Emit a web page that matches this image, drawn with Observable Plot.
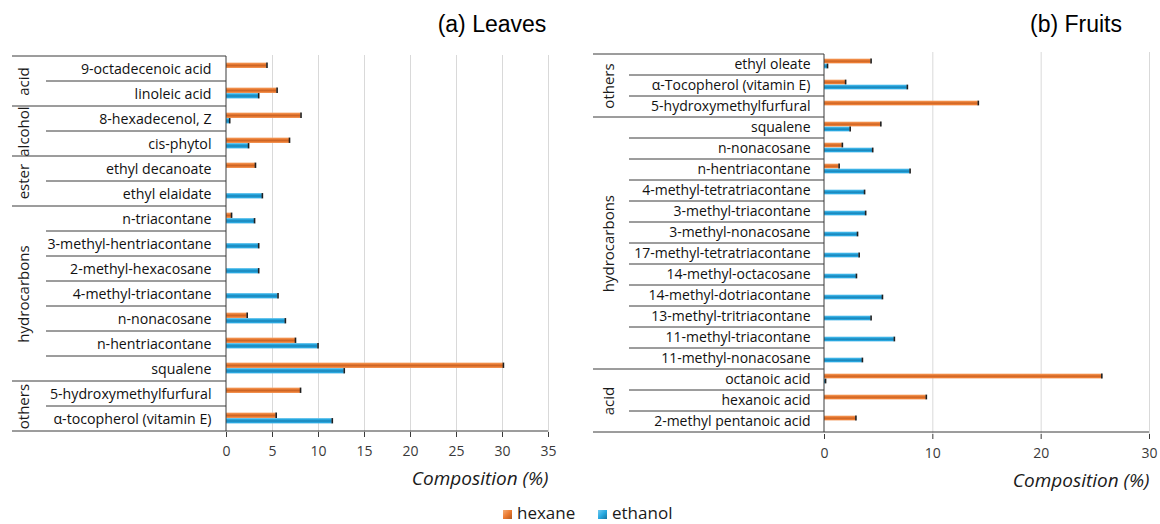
<!DOCTYPE html>
<html>
<head>
<meta charset="utf-8">
<script src="https://cdn.jsdelivr.net/npm/d3@7"></script>
<script src="https://cdn.jsdelivr.net/npm/@observablehq/plot@0.6"></script>
<style>
  body { margin: 0; background: #fff; }
  #wrap { position: relative; width: 1160px; height: 524px; overflow: hidden; font-family: "Open Sans", sans-serif; background: #fff; }
  .title { position: absolute; top: 13px; font-family: "Liberation Sans", Arial, sans-serif; font-size: 23px; line-height: 23px; color: #000; transform: translateX(-50%); white-space: nowrap; }
  .panel { position: absolute; top: 40px; }
  .panel svg { overflow: visible; }
  .leg { position: absolute; top: 503px; height: 20px; display: flex; align-items: center; font-size: 17px; line-height: 20px; color: #1a1a1a; white-space: nowrap; }
  .sw { width: 9px; height: 9px; margin-right: 5px; margin-top: 2px; box-sizing: border-box; }
</style>
</head>
<body>
<svg width="0" height="0" style="position:absolute">
  <defs>
    <linearGradient id="gOr" x1="0" y1="0" x2="0" y2="1">
      <stop offset="0" stop-color="#f4ad78"/>
      <stop offset="0.25" stop-color="#ee7f35"/>
      <stop offset="0.55" stop-color="#cc6526"/>
      <stop offset="0.8" stop-color="#ec7b31"/>
      <stop offset="1" stop-color="#f08f4e"/>
    </linearGradient>
    <linearGradient id="gBl" x1="0" y1="0" x2="0" y2="1">
      <stop offset="0" stop-color="#74caef"/>
      <stop offset="0.25" stop-color="#28a9e1"/>
      <stop offset="0.55" stop-color="#1a82b6"/>
      <stop offset="0.8" stop-color="#25a5de"/>
      <stop offset="1" stop-color="#4bb6e7"/>
    </linearGradient>
  </defs>
</svg>
<div id="wrap">
  <div class="title" style="left:492px">(a) Leaves</div>
  <div class="title" style="left:1076px">(b) Fruits</div>
  <div class="panel" id="left" style="left:0px"></div>
  <div class="panel" id="right" style="left:580px"></div>
  <div class="leg" style="left:503px"><div class="sw" style="background:linear-gradient(135deg,#f4ad78,#ec7b31 50%,#b3591f)"></div>hexane</div>
  <div class="leg" style="left:598px"><div class="sw" style="background:linear-gradient(135deg,#74caef,#28a9e1 50%,#17749f)"></div>ethanol</div>
</div>
<script>
// ---------- data: (a) Leaves ----------
const leavesNames = ["9-octadecenoic acid", "linoleic acid", "8-hexadecenol, Z", "cis-phytol", "ethyl decanoate", "ethyl elaidate", "n-triacontane", "3-methyl-hentriacontane", "2-methyl-hexacosane", "4-methyl-triacontane", "n-nonacosane", "n-hentriacontane", "squalene", "5-hydroxymethylfurfural", "α-tocopherol (vitamin E)"];
const leavesHexane  = [4.4, 5.5, 8.1, 6.85, 3.15, null, 0.55, null, null, null, 2.25, 7.5, 30.1, 8.05, 5.4];
const leavesEthanol = [null, 3.5, 0.35, 2.4, null, 3.9, 3.05, 3.5, 3.5, 5.6, 6.4, 9.95, 12.8, null, 11.5];
const leavesGroups = ["acid", "alcohol", "ester", "hydrocarbons", "others"];
const leavesGroupSizes = [2, 2, 2, 7, 2];
const leavesTicks = [0, 5, 10, 15, 20, 25, 30, 35];

// ---------- data: (b) Fruits ----------
const fruitsNames = ["ethyl oleate", "α-Tocopherol (vitamin E)", "5-hydroxymethylfurfural", "squalene", "n-nonacosane", "n-hentriacontane", "4-methyl-tetratriacontane", "3-methyl-triacontane", "3-methyl-nonacosane", "17-methyl-tetratriacontane", "14-methyl-octacosane", "14-methyl-dotriacontane", "13-methyl-tritriacontane", "11-methyl-triacontane", "11-methyl-nonacosane", "octanoic acid", "hexanoic acid", "2-methyl pentanoic acid"];
const fruitsHexane  = [4.3, 1.95, 14.2, 5.2, 1.65, 1.35, null, null, null, null, null, null, null, null, null, 25.6, 9.4, 2.9];
const fruitsEthanol = [0.28, 7.65, null, 2.37, 4.45, 7.9, 3.7, 3.8, 3.05, 3.2, 2.95, 5.35, 4.3, 6.45, 3.5, 0.1, null, null];
const fruitsGroups = ["others", "hydrocarbons", "acid"];
const fruitsGroupSizes = [3, 12, 3];
const fruitsTicks = [0, 10, 20, 30];

const axisTitle = "Composition (%)";

function panel(o) {
  const {names, hexane, ethanol, groups, sizes, ticks} = o;
  const xMax = ticks[ticks.length - 1];
  const rows = [];
  names.forEach((n, i) => {
    if (hexane[i] != null) rows.push({name: n, series: "hexane", value: hexane[i]});
    if (ethanol[i] != null) rows.push({name: n, series: "ethanol", value: ethanol[i]});
  });
  const hex = rows.filter(d => d.series === "hexane");
  const eth = rows.filter(d => d.series === "ethanol");
  const bw = (o.height - o.mt - o.mb) / names.length;
  const hexInset = {insetTop: bw / 2 - o.barH - o.shift, insetBottom: bw / 2 + o.shift};
  const ethInset = {insetTop: bw / 2 - o.shift, insetBottom: bw / 2 - o.barH + o.shift};

  let start = 0;
  const grpRows = groups.map((g, k) => {
    const c = start + (sizes[k] - 1) / 2;
    start += sizes[k];
    return {label: g, name: names[Math.floor(c)], half: c % 1 !== 0};
  });
  const grpText = {y: "name", text: "label", frameAnchor: "left", textAnchor: "middle", lineAnchor: "middle",
                   dx: -(o.ml - o.grpCx), rotate: -90, fontSize: 15, fill: "#1a1a1a"};

  const plot = Plot.plot({
    width: o.width, height: o.height,
    marginLeft: o.ml, marginRight: o.mr, marginTop: o.mt, marginBottom: o.mb,
    x: {domain: [0, xMax]},
    y: {domain: names, padding: 0},
    style: {fontFamily: "Open Sans, sans-serif", background: "white", color: "#000", overflow: "visible"},
    marks: [
      Plot.gridX({ticks: ticks.filter(t => t > 0), stroke: "#d9d9d9", strokeOpacity: 1, strokeWidth: 1}),
      Plot.barX(hex, {x: "value", y: "name", fill: "url(#gOr)", ...hexInset}),
      Plot.barX(eth, {x: "value", y: "name", fill: "url(#gBl)", ...ethInset}),
      Plot.tickX(hex, {x: "value", y: "name", stroke: "#1e1e1e", strokeWidth: 1.6, ...hexInset}),
      Plot.tickX(eth, {x: "value", y: "name", stroke: "#1e1e1e", strokeWidth: 1.6, ...ethInset}),
      Plot.axisY({tickSize: 0, tickPadding: o.padY, fontSize: o.labelFont, label: null, color: "#111"}),
      Plot.axisX({ticks, tickSize: 5, tickPadding: 9, fontSize: 14, label: null, color: "#3a3a3a"}),
      Plot.text(grpRows.filter(d => !d.half), grpText),
      Plot.text(grpRows.filter(d => d.half), {...grpText, dy: bw / 2}),
      Plot.text([axisTitle], {frameAnchor: "bottom-right", textAnchor: "end", lineAnchor: "middle", dy: 46,
                              fontStyle: "italic", fontSize: 19, fill: "#1a1a1a"})
    ]
  });

  // table lines in the label margin and axis lines, positioned by Plot's own scales
  const ys = plot.scale("y"), xs = plot.scale("x");
  const y0 = ys.apply(names[0]);
  const x0 = xs.apply(0), x1 = xs.apply(xMax);
  const bounds = new Set([0]);
  let acc = 0;
  sizes.forEach(s => { acc += s; bounds.add(acc); });
  const g = d3.select(plot).append("g").attr("stroke", "#3a3a3a").attr("stroke-width", 1).attr("fill", "none");
  for (let i = 0; i <= names.length; i++) {
    const yy = y0 + i * ys.bandwidth;
    const left = bounds.has(i) ? o.grpX : o.subX;
    const right = i === names.length ? x1 : x0;
    g.append("line").attr("x1", left).attr("x2", right).attr("y1", yy).attr("y2", yy);
  }
  g.append("line").attr("x1", x0).attr("x2", x0).attr("y1", y0).attr("y2", y0 + names.length * ys.bandwidth);
  return plot;
}

document.getElementById("left").appendChild(panel({
  names: leavesNames, hexane: leavesHexane, ethanol: leavesEthanol,
  groups: leavesGroups, sizes: leavesGroupSizes, ticks: leavesTicks,
  width: 580, height: 450, ml: 226, mr: 32, mt: 15, mb: 58,
  barH: 5.5, shift: 0.5, padY: 15, labelFont: 14.2, grpX: 12, subX: 46, grpCx: 23.5
}));

document.getElementById("right").appendChild(panel({
  names: fruitsNames, hexane: fruitsHexane, ethanol: fruitsEthanol,
  groups: fruitsGroups, sizes: fruitsGroupSizes, ticks: fruitsTicks,
  width: 580, height: 450, ml: 244, mr: 11, mt: 12, mb: 56,
  barH: 5, shift: 1, padY: 14, labelFont: 14, grpX: 13, subX: 49, grpCx: 28.5
}));
</script>
</body>
</html>
